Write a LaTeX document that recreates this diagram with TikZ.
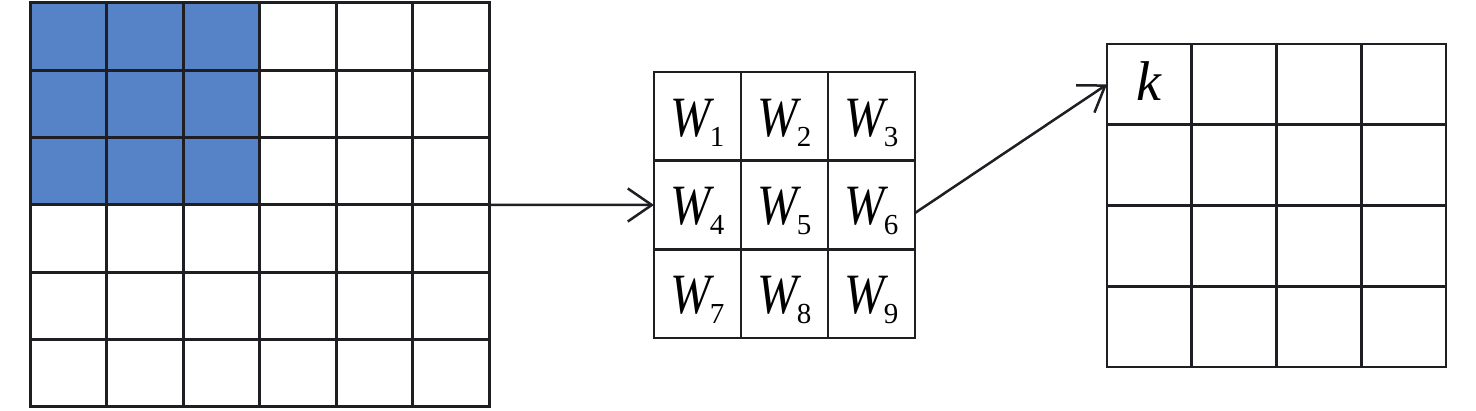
\documentclass[tikz,border=0pt]{standalone}
\usepackage{fontspec}
\setmainfont{Liberation Serif}
\usepackage{tikz}
\usetikzlibrary{arrows.meta,positioning}
\definecolor{patchblue}{RGB}{86,131,200}
\definecolor{gridblack}{RGB}{30,30,35}
\newcommand{\wsub}[1]{\scalebox{0.85}[1]{\textit{W}}\kern-2.5pt\raisebox{-5pt}{\fontsize{14.5}{14.5}\selectfont #1}}
\tikzset{
  cell/.style={
    rectangle, draw=gridblack, line width=1.4pt, fill=white,
    inner sep=0pt, outer sep=0pt, anchor=north west,
    font=\fontsize{28.5}{28.5}\selectfont
  },
  incell/.style={cell, line width=1.5pt, minimum width=38.25pt, minimum height=33.67pt},
  kercell/.style={cell, minimum width=43.5pt, minimum height=44.33pt,
    text height=22pt, text depth=2pt},
  outcell/.style={cell, minimum width=42.375pt, minimum height=40.375pt},
  arrow/.style={-{Straight Barb[length=12pt, width=16.5pt, line width=1.25pt]},
    line width=1.25pt, color=gridblack}
}
\begin{document}
\begin{tikzpicture}[x=0.5pt, y=-0.5pt]
  \useasboundingbox (0,0) rectangle (1476,411);

  % input map, 6x6, top-left 3x3 patch shaded
  \foreach \r in {1,...,6}
    \foreach \c in {1,...,6}{
      \pgfmathtruncatemacro{\hot}{and(\r<4,\c<4)}
      \ifnum\hot=1 \def\cellfill{patchblue}\else\def\cellfill{white}\fi
      \node[incell, fill=\cellfill] (in-\r-\c)
        at ({30+(\c-1)*76.5}, {3+(\r-1)*67.33}) {};
    }

  % kernel, 3x3
  \foreach \r in {1,2,3}
    \foreach \c in {1,2,3}{
      \pgfmathtruncatemacro{\n}{(\r-1)*3+\c}
      \node[kercell] (ker-\r-\c)
        at ({654+(\c-1)*87}, {72+(\r-1)*88.67}) {\wsub{\n}};
    }

  % output map, 4x4
  \foreach \r in {1,...,4}
    \foreach \c in {1,...,4}
      \node[outcell] (out-\r-\c)
        at ({1107+(\c-1)*84.75}, {44+(\r-1)*80.75}) {};
  \node (k) at ([yshift=1.5pt]out-1-1.center) {\fontsize{28}{28}\selectfont\itshape k};

  \draw[arrow] (in-4-6.north east) -- (ker-2-1.west);
  \draw[arrow] ([yshift=-4pt]ker-2-3.east) -- (out-1-1.west);
\end{tikzpicture}
\end{document}
